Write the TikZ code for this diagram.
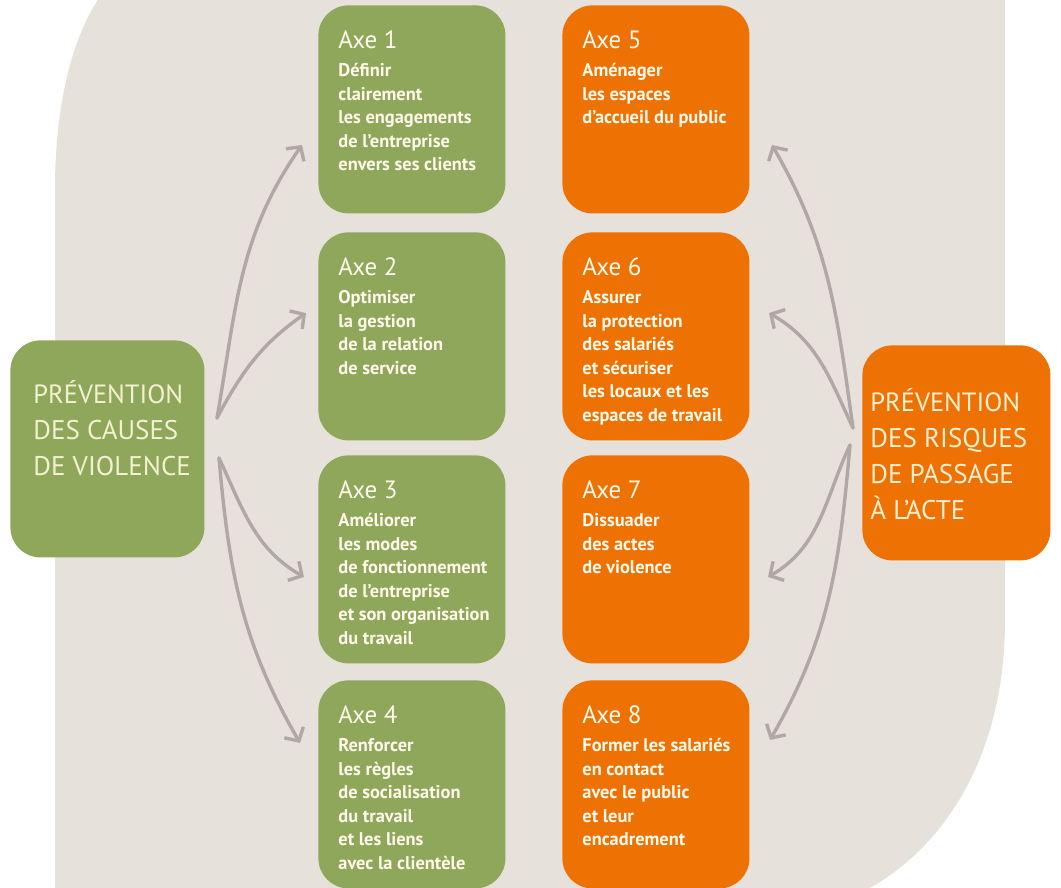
\documentclass[tikz,border=0pt]{standalone}
\usepackage{fontspec}
\setmainfont{PT Sans}
\usetikzlibrary{positioning,arrows.meta}

\definecolor{fond}{HTML}{E7E1DB}
\definecolor{vert}{HTML}{8FA75A}
\definecolor{orangeaxe}{HTML}{EE7203}
\definecolor{gris}{HTML}{B0A8A5}
\definecolor{creme}{HTML}{F4F0D2}
\definecolor{blanccreme}{HTML}{FFFAEC}

\newcommand\axetitre[1]{{\fontsize{12.5}{13}\mdseries\selectfont #1}}
\newcommand\prevtitre[1]{{\fontsize{13.2}{14}\selectfont #1}}

\tikzset{
  axe/.style={rounded corners=15pt, minimum width=93.5pt, minimum height=104pt,
    inner sep=0pt, anchor=north west},
  axetexte/.style={align=left, inner sep=0pt, text=blanccreme,
    font=\fontsize{9.2}{11.75}\bfseries\selectfont},
  grand/.style={rounded corners=15pt, inner sep=0pt, anchor=north west},
  grandtexte/.style={align=left, inner sep=0pt, text=creme,
    font=\fontsize{13.5}{18}\selectfont},
  fleche/.style={draw=gris, line width=1.7pt, line cap=round,
    -{Straight Barb[length=5pt,width=11pt]}},
}

\begin{document}
\begin{tikzpicture}[x=0.5pt,y=0.5pt]
\useasboundingbox (0,0) rectangle (1061,888);

% fond beige
\fill[fond] (55,-10) -- (55,698) .. controls (55,790) and (75,860) .. (105,898)
  -- (1005,898) -- (1005,268) .. controls (1005,128) and (940,30) .. (850,-10) -- cycle;

% les huit axes
\foreach \n/\y in {1/883,2/656,3/433,4/208}
  \node[axe, fill=vert] (a\n) at (318,\y) {};
\foreach \n/\y in {5/883,6/656,7/433,8/208}
  \node[axe, fill=orangeaxe] (a\n) at (562,\y) {};

\node[axetexte, below right=12.5pt and 10pt of a1.north west] (t1)
  {\axetitre{Axe 1}\\[2.5pt] Définir\\clairement\\les engagements\\de l'entreprise\\envers ses clients};
\node[axetexte, below right=12.5pt and 10pt of a2.north west] (t2)
  {\axetitre{Axe 2}\\[2.5pt] Optimiser\\la gestion\\de la relation\\de service};
\node[axetexte, below right=12.5pt and 10pt of a3.north west] (t3)
  {\axetitre{Axe 3}\\[2.5pt] Améliorer\\les modes\\de fonctionnement\\de l'entreprise\\et son organisation\\du travail};
\node[axetexte, below right=12.5pt and 10pt of a4.north west] (t4)
  {\axetitre{Axe 4}\\[2.5pt] Renforcer\\les règles\\de socialisation\\du travail\\et les liens\\avec la clientèle};
\node[axetexte, below right=12.5pt and 10pt of a5.north west] (t5)
  {\axetitre{Axe 5}\\[2.5pt] Aménager\\les espaces\\d'accueil du public};
\node[axetexte, below right=12.5pt and 10pt of a6.north west] (t6)
  {\axetitre{Axe 6}\\[2.5pt] Assurer\\la protection\\des salariés\\et sécuriser\\les locaux et les\\espaces de travail};
\node[axetexte, below right=12.5pt and 10pt of a7.north west] (t7)
  {\axetitre{Axe 7}\\[2.5pt] Dissuader\\des actes\\de violence};
\node[axetexte, below right=12.5pt and 10pt of a8.north west] (t8)
  {\axetitre{Axe 8}\\[2.5pt] Former les salariés\\en contact\\avec le public\\et leur\\encadrement};

% les deux preventions
\node[grand, fill=vert, minimum width=97pt, minimum height=108.5pt] (causes) at (10,548) {};
\node[grand, fill=orangeaxe, minimum width=94pt, minimum height=107.5pt] (risques) at (862,543) {};
\node[grandtexte, below right=20pt and 11.5pt of causes.north west] (tc)
  {\prevtitre{PRÉVENTION}\\DES CAUSES\\DE VIOLENCE};
\node[grandtexte, below right=21.5pt and 4pt of risques.north west] (tr)
  {\prevtitre{PRÉVENTION}\\DES RISQUES\\DE PASSAGE\\À L'ACTE};

% fleches
\coordinate (gh) at (217,470);
\coordinate (gb) at (219,430);
\coordinate (dh) at (853,460);
\coordinate (db) at (850,443);
\coordinate (p1) at (302,743);
\coordinate (p2) at (306,575);
\coordinate (p3) at (304,311);
\coordinate (p4) at (300,145);
\coordinate (p5) at (772,743);
\coordinate (p6) at (769,575);
\coordinate (p7) at (768,311);
\coordinate (p8) at (770,148);

\draw[fleche] (gh) to[out=80,in=235] (p1);
\draw[fleche] (gh) to[out=62,in=215] (p2);
\draw[fleche] (gb) to[out=-65,in=150] (p3);
\draw[fleche] (gb) to[out=-85,in=120] (p4);
\draw[fleche] (dh) to[out=98,in=-60] (p5);
\draw[fleche] (dh) to[out=115,in=-30] (p6);
\draw[fleche] (db) to[out=245,in=30] (p7);
\draw[fleche] (db) to[out=265,in=60] (p8);
\end{tikzpicture}
\end{document}
